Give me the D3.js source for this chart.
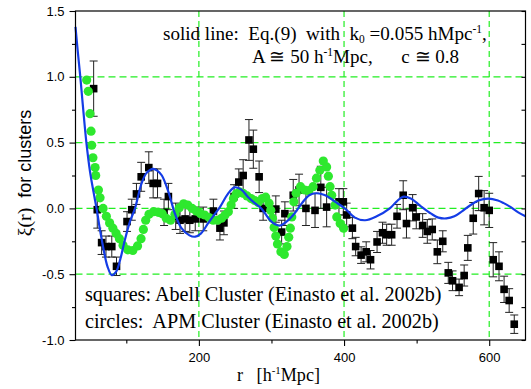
<!DOCTYPE html>
<html><head><meta charset="utf-8">
<script src="https://cdn.jsdelivr.net/npm/d3@7"></script>
<style>body{margin:0;background:#fff}svg{display:block}text{white-space:pre}</style>
</head><body>
<script>
// ---------- data ----------
const abellR   = [55,60,66,72,80,86.5,101,107.5,114,120.5,131,137,143,152,158,168,174,181,187.5,195,206,220,229,234.5,248.5,255,261,269,275,283,288.5,306,314,318.5,330,338,347.5,360,368,376,393,399,403.6,411.5,416,423.5,430.5,436.5,445.5,453,458.7,465.6,473,481.5,486,494.5,499.5,508.3,514.7,521.5,528.5,536,543.6,549.5,558.5,565.5,570.5,578,585.5,593,600,605.5,613.5,620.5,627.5,634.5];
const abellXi  = [0.91,-0.01,-0.26,-0.29,-0.29,-0.44,-0.10,-0.01,0.11,0.24,0.31,0.19,0.19,-0.03,0.09,-0.06,-0.09,-0.08,-0.09,-0.08,-0.08,-0.02,-0.15,-0.11,0.09,0.20,0.25,0.52,0.45,0.24,0.0,-0.005,-0.18,-0.04,0.10,0.14,0.0,-0.015,0.16,0.01,0.05,0.05,-0.05,-0.15,-0.29,-0.355,-0.33,-0.39,-0.255,-0.185,-0.20,-0.20,-0.06,0.10,-0.115,0.005,-0.065,-0.13,-0.175,-0.16,-0.33,-0.25,-0.49,-0.55,-0.60,-0.51,-0.30,-0.075,0.113,0.005,-0.015,-0.39,-0.44,-0.615,-0.70,-0.88];
const abellErr = [0.21,0.14,0.09,0.08,0.08,0.07,0.075,0.08,0.08,0.11,0.12,0.11,0.11,0.10,0.10,0.10,0.10,0.095,0.095,0.09,0.09,0.09,0.09,0.09,0.09,0.10,0.12,0.155,0.145,0.12,0.09,0.10,0.09,0.09,0.12,0.12,0.13,0.13,0.16,0.15,0.10,0.10,0.09,0.08,0.07,0.063,0.076,0.07,0.08,0.08,0.08,0.08,0.09,0.11,0.11,0.10,0.09,0.09,0.09,0.08,0.09,0.08,0.08,0.075,0.063,0.08,0.095,0.12,0.13,0.13,0.13,0.13,0.11,0.10,0.09,0.07];

const apmR  = [45.4,47.6,50,51.4,52.3,54,57,57.8,61.6,63.8,68,72.5,77,81.5,86,90.5,95.5,102,109,115.5,120.3,123.5,126.7,131.3,137.5,144,149.6,155,161,167,173,179,184.6,190.7,196.3,202.3,208,214,219.6,225.7,231.3,236,240.6,244.4,247.6,251.4,256,260.7,266.3,271.9,277,281.7,287.3,292,296.7,299,301.4,303.7,306,308.3,313,317.7,321.4,323.8,326,328,330.8,334,340,345.7,351.3,357.4,362,366.7,371.4,376,378.4,380.7,383,387.7,390,394.7,399.4];
const apmXi = [0.975,0.89,0.72,0.587,0.48,0.385,0.31,0.25,0.14,0.08,0.0,-0.06,-0.11,-0.15,-0.19,-0.23,-0.28,-0.315,-0.32,-0.285,-0.23,-0.16,-0.09,-0.045,-0.025,-0.03,-0.04,-0.075,-0.09,-0.045,0.005,0.035,0.025,0.0,-0.02,-0.04,-0.05,-0.07,-0.09,-0.09,-0.075,-0.05,-0.025,0.025,0.075,0.11,0.125,0.115,0.095,0.075,0.06,0.045,0.075,0.085,0.04,-0.015,-0.075,-0.145,-0.21,-0.27,-0.33,-0.35,-0.29,-0.22,-0.15,-0.065,0.05,0.115,0.165,0.14,0.135,0.165,0.23,0.29,0.36,0.315,0.245,0.165,0.10,0.025,-0.065,-0.115,-0.15];

const fitR  = [30,33,36.6,40,45,50,55,59,64,69,74,80,86,92,98,105,112,121,128,137,143,149,158,167,176,187,195,203,213,221,229,240,249,258,268,277,286,298,305,312,320,330,342,352,362,374,388,401,415,429,445,463,472,481,492,505,520,530,541,552,563,573,585,599,612,620,628,640,650];
const fitXi = [1.38,1.2,1.0,0.79,0.5,0.28,0.12,0.0,-0.17,-0.32,-0.44,-0.507,-0.48,-0.38,-0.24,-0.1,0.0,0.19,0.27,0.30,0.285,0.25,0.126,-0.04,-0.15,-0.205,-0.215,-0.19,-0.11,-0.05,0.01,0.11,0.16,0.145,0.085,0.04,0.0,-0.09,-0.12,-0.13,-0.105,-0.05,0.04,0.10,0.115,0.10,0.05,0.0,-0.07,-0.09,-0.06,0.0,0.05,0.088,0.075,0.02,-0.04,-0.07,-0.076,-0.06,-0.02,0.02,0.06,0.075,0.06,0.04,0.015,-0.03,-0.06];

const xMajor = [200,400,600], xMinor = [100,300,500];
const yMajor = [-1.0,-0.5,0.0,0.5,1.0,1.5], yMinor = [-0.75,-0.25,0.25,0.75,1.25];
const gridX = [200,400,600], gridY = [-0.5,0,0.5,1.0];

// ---------- chart ----------
const W=531,H=389, L=75.5, R=525.5, T=11, B=340;
const x = d3.scaleLinear().domain([30,650]).range([L,R]);
const y = d3.scaleLinear().domain([-1,1.5]).range([B,T]);
const svg = d3.select("body").append("svg").attr("width",W).attr("height",H);

const GRID="#22ee22", GREEN="#2ee82e", BLUE="#143ce6";

// grid
svg.append("g").selectAll("line").data(gridX).join("line")
  .attr("x1",d=>x(d)).attr("x2",d=>x(d)).attr("y1",T).attr("y2",B)
  .attr("stroke",GRID).attr("stroke-width",1.2).attr("stroke-dasharray","6,4");
svg.append("g").selectAll("line").data(gridY).join("line")
  .attr("x1",L).attr("x2",R).attr("y1",d=>y(d)).attr("y2",d=>y(d))
  .attr("stroke",GRID).attr("stroke-width",1.2).attr("stroke-dasharray","7,4");

// axes
const sans = "'Liberation Sans', Arial, sans-serif", serif="'Liberation Serif','Times New Roman',serif";
function style(g){ g.select(".domain").remove(); g.selectAll("line").attr("stroke","#000").attr("stroke-width",1.1);
  g.selectAll("text").attr("font-family",sans).attr("font-size",13).attr("fill","#000"); }
svg.append("g").attr("transform",`translate(${L},0)`)
  .call(d3.axisLeft(y).tickValues(yMajor).tickSize(6).tickPadding(5).tickFormat(d=>d.toFixed(1))).call(style);
svg.append("g").attr("transform",`translate(${L},0)`)
  .call(d3.axisLeft(y).tickValues(yMinor).tickSize(3.5).tickFormat("")).call(style);
svg.append("g").attr("transform",`translate(0,${B})`)
  .call(d3.axisBottom(x).tickValues(xMajor).tickSize(6).tickPadding(7).tickFormat(d3.format("d"))).call(style);
svg.append("g").attr("transform",`translate(0,${B})`)
  .call(d3.axisBottom(x).tickValues(xMinor).tickSize(3.5).tickFormat("")).call(style);
svg.append("g").attr("transform",`translate(${R},0)`)
  .call(d3.axisLeft(y).tickValues(yMajor.concat(yMinor)).tickSize(4).tickFormat("")).call(style);

// error bars + squares
const idx = d3.range(abellR.length);
const eb = svg.append("g").attr("stroke","#222").attr("stroke-width",1);
eb.selectAll(".v").data(idx).join("line")
  .attr("x1",i=>x(abellR[i])).attr("x2",i=>x(abellR[i]))
  .attr("y1",i=>y(abellXi[i]-abellErr[i])).attr("y2",i=>y(abellXi[i]+abellErr[i]));
eb.selectAll(".t").data(idx).join("line")
  .attr("x1",i=>x(abellR[i])-4).attr("x2",i=>x(abellR[i])+4)
  .attr("y1",i=>y(abellXi[i]+abellErr[i])).attr("y2",i=>y(abellXi[i]+abellErr[i]));
eb.selectAll(".b").data(idx).join("line")
  .attr("x1",i=>x(abellR[i])-4).attr("x2",i=>x(abellR[i])+4)
  .attr("y1",i=>y(abellXi[i]-abellErr[i])).attr("y2",i=>y(abellXi[i]-abellErr[i]));
svg.append("g").selectAll("rect").data(idx).join("rect")
  .attr("x",i=>x(abellR[i])-3.8).attr("y",i=>y(abellXi[i])-3.8)
  .attr("width",7.6).attr("height",7.6).attr("fill","#000");

// green circles
svg.append("g").selectAll("circle").data(d3.range(apmR.length)).join("circle")
  .attr("cx",i=>x(apmR[i])).attr("cy",i=>y(apmXi[i])).attr("r",4.6).attr("fill",GREEN);

// blue fit curve
svg.append("path").datum(d3.range(fitR.length))
  .attr("d", d3.line().x(i=>x(fitR[i])).y(i=>y(fitXi[i])).curve(d3.curveCatmullRom.alpha(0.5)))
  .attr("fill","none").attr("stroke",BLUE).attr("stroke-width",2.2);

// frame
svg.append("rect").attr("x",L).attr("y",T).attr("width",R-L).attr("height",B-T)
  .attr("fill","none").attr("stroke","#000").attr("stroke-width",1.2);

// annotations
function fit(sel, target){ const w = sel.node().getBBox().width; sel.attr("font-size", +sel.attr("font-size")*target/w); }
const t1 = svg.append("text").attr("x",163).attr("y",40).attr("font-family",serif).attr("font-size",18).attr("xml:space","preserve");
t1.append("tspan").text("solid line:  Eq.(9)  with  k");
t1.append("tspan").attr("font-size","0.6em").attr("dy","0.3em").text("0");
t1.append("tspan").attr("dy","-0.18em").text(" =0.055 hMpc");
t1.append("tspan").attr("font-size","0.6em").attr("dy","-0.6em").text("-1");
t1.append("tspan").attr("dy","0.36em").text(",");
fit(t1, 324);

const t2 = svg.append("text").attr("x",252).attr("y",63).attr("font-family",serif).attr("font-size",18).attr("xml:space","preserve");
t2.append("tspan").text("A \u2245 50 h");
t2.append("tspan").attr("font-size","0.6em").attr("dy","-0.6em").text("-1");
t2.append("tspan").attr("dy","0.36em").text("Mpc,      c \u2245 0.8");
fit(t2, 207);

const t3 = svg.append("text").attr("x",85).attr("y",301).attr("font-family",serif).attr("font-size",19).attr("xml:space","preserve")
  .text("squares: Abell Cluster (Einasto et al. 2002b)");
fit(t3, 357);
const t4 = svg.append("text").attr("x",85).attr("y",328).attr("font-family",serif).attr("font-size",19).attr("xml:space","preserve")
  .text("circles:  APM Cluster (Einasto et al. 2002b)");
fit(t4, 354);

// axis titles
const xt = svg.append("text").attr("x",237).attr("y",381).attr("font-family",serif).attr("font-size",19).attr("xml:space","preserve");
xt.append("tspan").text("r   [h");
xt.append("tspan").attr("font-size","0.6em").attr("dy","-0.6em").text("-1");
xt.append("tspan").attr("dy","0.36em").text("Mpc]");
fit(xt, 83);

const yt = svg.append("text").attr("transform","translate(31,173) rotate(-90)").attr("text-anchor","middle")
  .attr("font-size",18).attr("xml:space","preserve");
yt.append("tspan").attr("font-family",serif).attr("font-size","1.1em").text("\u03BE(r)");
yt.append("tspan").attr("font-family",sans).text("  for clusters");
</script>
</body></html>
